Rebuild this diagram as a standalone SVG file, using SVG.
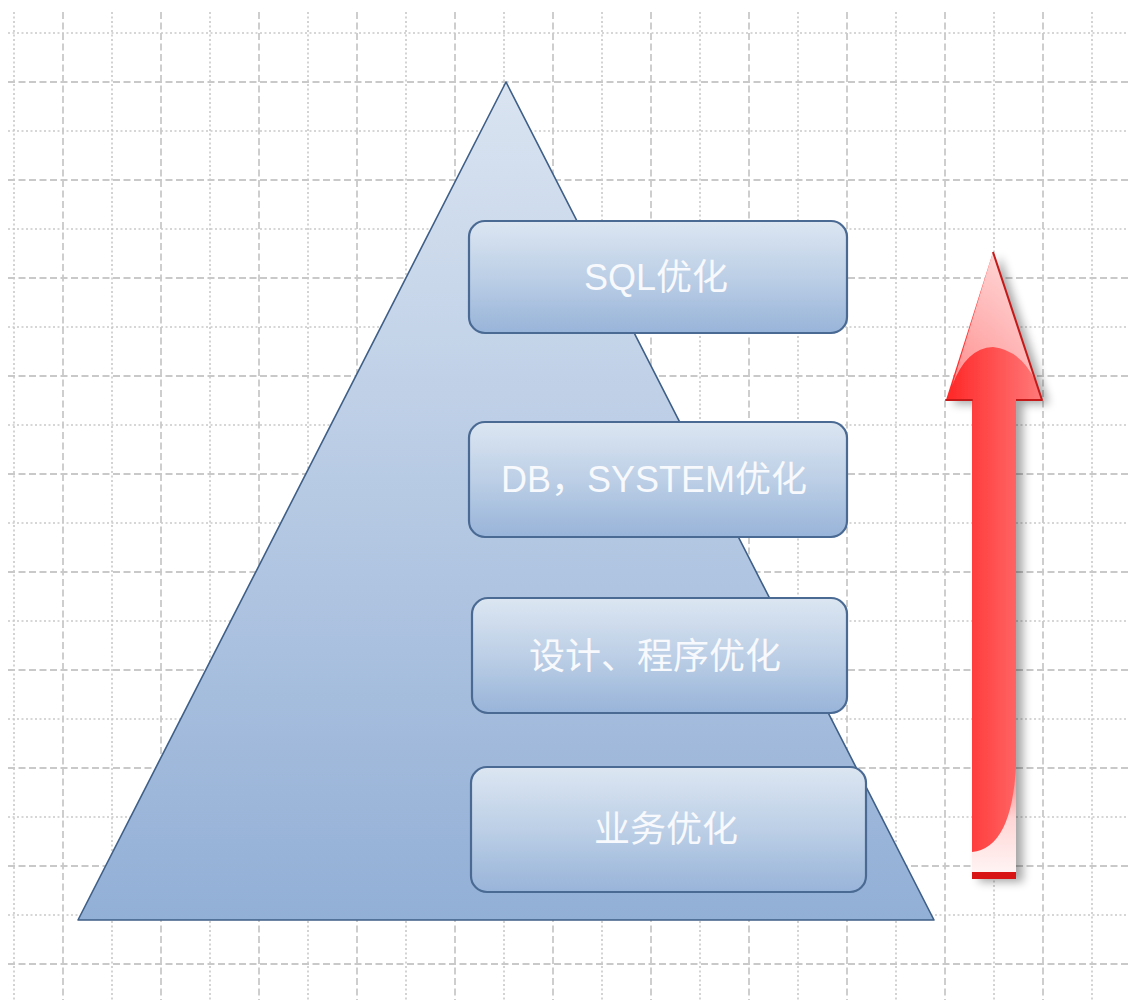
<svg xmlns="http://www.w3.org/2000/svg" width="1128" height="1000" viewBox="0 0 1128 1000">
  <style>
    .grid-dot { fill: none; stroke: #c9c9c9; stroke-width: 1.6; stroke-dasharray: 2 2.5; }
    .grid-dash { fill: none; stroke: #c9c9c9; stroke-width: 1.8; stroke-dasharray: 7 3.5; }
    .box { fill: url(#boxFill); stroke: #4a6a93; stroke-width: 2.2; }
    .label { font-family: "Liberation Sans", "Noto Sans CJK SC", sans-serif; font-size: 36px; fill: #f7f9fc; text-anchor: middle; dominant-baseline: central; }
  </style>
  <defs>
    <linearGradient id="pyramidFill" x1="0" y1="0" x2="0" y2="1">
      <stop offset="0" stop-color="#dae4f1"/>
      <stop offset="1" stop-color="#92afd6"/>
    </linearGradient>
    <linearGradient id="boxFill" x1="0" y1="0" x2="0" y2="1">
      <stop offset="0" stop-color="#dce6f2"/>
      <stop offset="0.5" stop-color="#bccfe6"/>
      <stop offset="1" stop-color="#98b4d9"/>
    </linearGradient>
    <linearGradient id="arrowRed" x1="0" y1="0" x2="1" y2="0">
      <stop offset="0" stop-color="#ff2626"/>
      <stop offset="1" stop-color="#ff7a7a"/>
    </linearGradient>
    <linearGradient id="headGloss" x1="0" y1="0" x2="0" y2="1">
      <stop offset="0" stop-color="#ffffff" stop-opacity="0.75"/>
      <stop offset="1" stop-color="#ffffff" stop-opacity="0.45"/>
    </linearGradient>
    <linearGradient id="tailGloss" x1="0" y1="0" x2="0" y2="1">
      <stop offset="0" stop-color="#ff9c9c" stop-opacity="0.6"/>
      <stop offset="0.5" stop-color="#ffd6d6"/>
      <stop offset="1" stop-color="#fff4f4"/>
    </linearGradient>
    <filter id="arrowShadow" x="-40%" y="-10%" width="180%" height="120%">
      <feGaussianBlur in="SourceAlpha" stdDeviation="5"/>
      <feOffset dx="7" dy="4" result="blur"/>
      <feComponentTransfer><feFuncA type="linear" slope="0.35"/></feComponentTransfer>
      <feMerge><feMergeNode/><feMergeNode in="SourceGraphic"/></feMerge>
    </filter>
  </defs>

  <rect width="1128" height="1000" fill="#ffffff"/>

  <!-- background grid: dotted and dashed lines alternate every 49px -->
  <g id="grid">
    <path class="grid-dot" d="M14,12V1000M112,12V1000M210,12V1000M308,12V1000M406,12V1000M504,12V1000M602,12V1000M700,12V1000M798,12V1000M896,12V1000M994,12V1000M1092,12V1000"/>
    <path class="grid-dash" d="M63,12V1000M161,12V1000M259,12V1000M357,12V1000M455,12V1000M553,12V1000M651,12V1000M749,12V1000M847,12V1000M945,12V1000M1043,12V1000"/>
    <path class="grid-dot" d="M8,33H1128M8,131H1128M8,229H1128M8,327H1128M8,425H1128M8,523H1128M8,621H1128M8,719H1128M8,817H1128M8,915H1128"/>
    <path class="grid-dash" d="M8,82H1128M8,180H1128M8,278H1128M8,376H1128M8,474H1128M8,572H1128M8,670H1128M8,768H1128M8,866H1128M8,964H1128"/>
  </g>

  <!-- pyramid -->
  <g id="pyramid">
    <polygon points="506,82 934,920 78,920" fill="url(#pyramidFill)" stroke="#3f5f87" stroke-width="1.6" stroke-linejoin="round"/>
  </g>

  <!-- level boxes, top to bottom -->
  <g id="node-sql">
    <rect class="box" x="469" y="221" width="378" height="112" rx="16"/>
    <text class="label" x="656" y="277">SQL优化</text>
  </g>
  <g id="node-db-system">
    <rect class="box" x="469" y="422" width="378" height="115" rx="16"/>
    <text class="label" x="654" y="479">DB，SYSTEM优化</text>
  </g>
  <g id="node-design">
    <rect class="box" x="472" y="598" width="375" height="115" rx="16"/>
    <text class="label" x="655" y="656">设计、程序优化</text>
  </g>
  <g id="node-business">
    <rect class="box" x="471" y="767" width="395" height="125" rx="16"/>
    <text class="label" x="666" y="829">业务优化</text>
  </g>

  <!-- upward arrow -->
  <g id="trend-arrow">
    <g filter="url(#arrowShadow)">
      <path d="M993,252 L1042,400 L1016,400 L1016,878 L972,878 L972,400 L946,400 Z" fill="url(#arrowRed)"/>
    </g>
    <!-- glossy upper head -->
    <path d="M993,252 L1035,380 Q1020,350 993,347 Q966,348 952,386 Z" fill="url(#headGloss)"/>
    <!-- light lower tail -->
    <path d="M1016,765 Q1012,848 972,852 L972,873 L1016,873 Z" fill="url(#tailGloss)"/>
    <rect x="972" y="872" width="44" height="7" fill="#d81414"/>
    <path d="M993,252 L1042,400 L1016,400 M972,400 L946,400 Z" fill="none" stroke="#c41a1a" stroke-width="2" stroke-linejoin="round"/>
  </g>
</svg>
